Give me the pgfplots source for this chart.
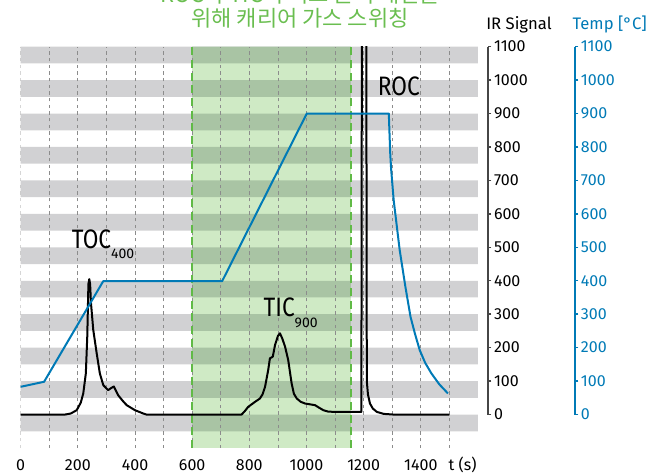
\documentclass[border=0pt]{standalone}
\usepackage{fontspec}
\setmainfont{Fira Sans}
\newfontfamily\kr{Noto Sans CJK KR}
\usepackage{graphicx}
\usepackage{pgfplots}
\pgfplotsset{compat=1.18}
\definecolor{bandgrey}{RGB}{209,209,211}
\definecolor{lightgreen}{RGB}{207,234,197}
\definecolor{darkgreen}{RGB}{169,196,164}
\definecolor{greenline}{RGB}{96,186,70}
\definecolor{titlegreen}{RGB}{106,190,80}
\definecolor{gridgrey}{RGB}{140,140,140}
\definecolor{tempblue}{RGB}{0,122,182}
\definecolor{irgrey}{RGB}{70,70,70}
\begin{document}
\begin{tikzpicture}[x=1pt,y=1pt]
\begin{axis}[name=main, at={(0pt,0pt)}, anchor=south west, scale only axis,
  width=343pt, height=301pt, xmin=0, xmax=1600, ymin=-100, ymax=1100,
  axis line style={draw=none}, major tick length=0pt, ytick=\empty,
  xtick={0,200,...,1400}, extra x ticks={1546}, extra x tick labels={t (s)},
  xticklabel style={anchor=base, yshift=-17.25pt, font=\fontsize{12}{14}\selectfont},
  /pgf/number format/assume math mode=true, /pgf/number format/1000 sep={}]
% background bands
\fill[bandgrey] (axis cs:0,-50) rectangle (axis cs:1600,0)
  (axis cs:0,50) rectangle (axis cs:1600,100)
  (axis cs:0,150) rectangle (axis cs:1600,200)
  (axis cs:0,250) rectangle (axis cs:1600,300)
  (axis cs:0,350) rectangle (axis cs:1600,400)
  (axis cs:0,450) rectangle (axis cs:1600,500)
  (axis cs:0,550) rectangle (axis cs:1600,600)
  (axis cs:0,650) rectangle (axis cs:1600,700)
  (axis cs:0,750) rectangle (axis cs:1600,800)
  (axis cs:0,850) rectangle (axis cs:1600,900)
  (axis cs:0,950) rectangle (axis cs:1600,1000)
  (axis cs:0,1050) rectangle (axis cs:1600,1100);
\fill[lightgreen] (axis cs:600,-100) rectangle (axis cs:1155,1100);
\fill[darkgreen] (axis cs:600,-50) rectangle (axis cs:1155,0)
  (axis cs:600,50) rectangle (axis cs:1155,100)
  (axis cs:600,150) rectangle (axis cs:1155,200)
  (axis cs:600,250) rectangle (axis cs:1155,300)
  (axis cs:600,350) rectangle (axis cs:1155,400)
  (axis cs:600,450) rectangle (axis cs:1155,500)
  (axis cs:600,550) rectangle (axis cs:1155,600)
  (axis cs:600,650) rectangle (axis cs:1155,700)
  (axis cs:600,750) rectangle (axis cs:1155,800)
  (axis cs:600,850) rectangle (axis cs:1155,900)
  (axis cs:600,950) rectangle (axis cs:1155,1000)
  (axis cs:600,1050) rectangle (axis cs:1155,1100);
\pgfplotsinvokeforeach{0,100,...,1600}{
  \draw[gridgrey, line width=0.6pt, dash pattern=on 2.5pt off 2.5pt] (axis cs:#1,-100) -- (axis cs:#1,1100);
}
\draw[greenline, line width=1.4pt, dash pattern=on 6pt off 3.5pt] (axis cs:600,-100) -- (axis cs:600,1100);
\draw[greenline, line width=1.4pt, dash pattern=on 6pt off 3.5pt] (axis cs:1155,-100) -- (axis cs:1155,1100);
% IR signal
\addplot[black, line width=1.5pt, line join=round] coordinates {
(0,0) (155,0) (175,3) (196,13) (210,35) (219,63) (228,123) (233,233) (237,390) (240,405)
(243,390) (246,333) (254,253) (266,183) (277,123) (289,88) (306,73) (318,80) (326,84)
(334,70) (341,58) (356,42) (371,28) (400,13) (429,3) (440,0) (773,0) (784,10) (796,23)
(820,38) (837,48) (846,60) (855,83) (866,133) (872,168) (882,173) (890,208) (900,235)
(907,243) (915,228) (925,203) (936,163) (948,93) (956,62) (966,48) (980,38) (995,33)
(1030,28) (1045,20) (1059,13) (1075,9) (1094,8) (1192,8) (1194,1300) (1209,1300)
(1211,100) (1215,60) (1222,33) (1232,18) (1246,8) (1270,2) (1304,0) (1500,0)};
% Temperature
\addplot[tempblue, line width=1.5pt, line join=round] coordinates {
(0,83) (82,98) (289,399) (705,399) (1001,900) (1288,900) (1290,850) (1293,780)
(1296,735) (1305,641) (1326,492) (1346,382) (1364,292) (1380,240) (1396,193)
(1415,155) (1437,123) (1465,90) (1495,63)};
\node[anchor=base west, inner sep=0pt] at (axis cs:178,497)
  {\fontsize{20}{24}\selectfont\scalebox{0.85}[1]{TOC}\raisebox{-8pt}{\fontsize{10.5}{12}\selectfont 400}};
\node[anchor=base west, inner sep=0pt] at (axis cs:849,292)
  {\fontsize{20}{24}\selectfont\scalebox{0.85}[1]{TIC}\raisebox{-8pt}{\fontsize{10.5}{12}\selectfont 900}};
\node[anchor=base west, inner sep=0pt] at (axis cs:1249,955)
  {\fontsize{20}{24}\selectfont\scalebox{0.85}[1]{ROC}};
\end{axis}
% IR axis
\begin{axis}[at={(349.5pt,25.1pt)}, anchor=south west, scale only axis,
  width=1pt, height=276pt, xmin=0, xmax=1, ymin=0, ymax=1100,
  hide x axis, axis y line=right, ytick={0,100,...,1100}, tick align=outside,
  major tick length=2.5pt, axis line style={-, draw=irgrey, line width=1.1pt},
  y tick style={draw=irgrey, line width=1.1pt},
  yticklabel style={font=\fontsize{12}{14}\selectfont, text=black, anchor=west, xshift=-1.5pt},
  /pgf/number format/assume math mode=true, /pgf/number format/1000 sep={}]
\addplot[draw=none] coordinates {(0,0)};
\end{axis}
% Temp axis
\begin{axis}[at={(414.7pt,25.1pt)}, anchor=south west, scale only axis,
  width=1pt, height=276pt, xmin=0, xmax=1, ymin=0, ymax=1100,
  hide x axis, axis y line=right, ytick={0,100,...,1100}, tick align=outside,
  major tick length=2.5pt, axis line style={-, draw=tempblue, line width=1.1pt},
  y tick style={draw=tempblue, line width=1.1pt},
  yticklabel style={font=\fontsize{12}{14}\selectfont, text=tempblue, anchor=west, xshift=-1.5pt},
  /pgf/number format/assume math mode=true, /pgf/number format/1000 sep={}]
\addplot[draw=none] coordinates {(0,0)};
\end{axis}
\node[anchor=base west, inner sep=0pt, font=\fontsize{12.5}{14}\selectfont] at (349pt,314pt) {IR Signal};
\node[anchor=base west, inner sep=0pt, font=\fontsize{12.5}{14}\selectfont, text=tempblue] at (413.8pt,314pt) {Temp [°C]};
\node[anchor=base, inner sep=0pt, text=titlegreen, font=\kr\fontsize{16.5}{20}\selectfont] at (209.5pt,315.75pt) {위해 캐리어 가스 스위칭};
\node[anchor=base, inner sep=0pt, text=titlegreen, font=\kr\fontsize{16.5}{20}\selectfont] at (209.5pt,333.75pt) {ROC와 TIC의 피크 분리 개선을};
\pgfresetboundingbox
\useasboundingbox (-15.5pt,-19.5pt) rectangle (481pt,336pt);
\end{tikzpicture}
\end{document}
